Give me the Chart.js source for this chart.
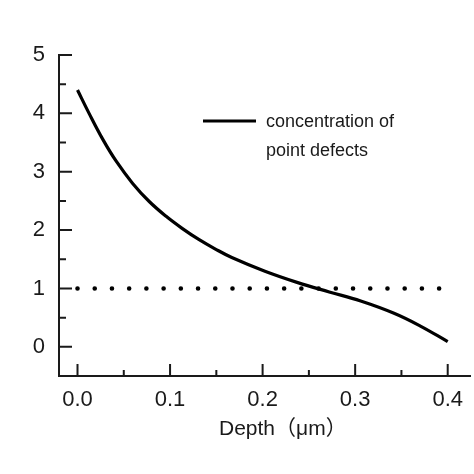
<!DOCTYPE html>
<html>
<head>
<meta charset="utf-8">
<script src="https://cdn.jsdelivr.net/npm/chart.js@4.4.1/dist/chart.umd.min.js"></script>
<style>
  html, body { margin: 0; padding: 0; background: #fff; }
  #wrap { width: 474px; height: 474px; }
</style>
</head>
<body>
<div id="wrap"><canvas id="chartDefects" width="474" height="474"></canvas></div>
<script>
// ===== DADOS =====
const DEPTH = [0, 0.0125, 0.0275, 0.0418, 0.0596, 0.0775, 0.0954, 0.113, 0.131, 0.149,
               0.1667, 0.2025, 0.238, 0.272, 0.306, 0.342, 0.370, 0.4];
const CONC  = [4.40, 4.00, 3.55, 3.18, 2.80, 2.49, 2.24, 2.03, 1.84, 1.675,
               1.53, 1.295, 1.10, 0.94, 0.785, 0.575, 0.36, 0.09];
const REF_X = [0, 0.395];
const REF_Y = [1, 1];
const X_TICKS = [0, 0.1, 0.2, 0.3, 0.4];
const X_MINOR = [0.05, 0.15, 0.25, 0.35];
const Y_TICKS = [0, 1, 2, 3, 4, 5];
const Y_MINOR = [0.5, 1.5, 2.5, 3.5, 4.5];
const LEGEND_LINES = ['concentration of', 'point defects'];
const X_TITLE = 'Depth（μm）';

const FONT = '"Liberation Sans", Arial, "Noto Sans CJK SC", sans-serif';
const INK = '#1a1a1a';

// ===== GRÁFICO =====
function initGrafico() {
  const ctx = document.getElementById('chartDefects');

  new Chart(ctx, {
    type: 'line',
    data: {
      datasets: [{
        label: LEGEND_LINES.join(' '),
        data: DEPTH.map((x, i) => ({ x, y: CONC[i] })),
        borderColor: '#000',
        borderWidth: 3.2,
        pointRadius: 0,
        tension: 0.4
      }, {
        label: 'ref',
        data: REF_X.map((x, i) => ({ x, y: REF_Y[i] })),
        borderColor: '#000',
        borderWidth: 4.6,
        borderDash: [0, 17.22],
        borderCapStyle: 'round',
        pointRadius: 0
      }]
    },
    options: {
      responsive: false,
      animation: false,
      devicePixelRatio: 1,
      layout: { padding: { top: 55, right: 0, bottom: 0, left: 0 } },
      plugins: { legend: { display: false }, tooltip: { enabled: false } },
      scales: {
        x: {
          type: 'linear',
          min: -0.02, max: 0.4246,
          afterBuildTicks: s => { s.ticks = X_TICKS.map(v => ({ value: v })); },
          afterFit: s => { s.height = 98; },
          ticks: {
            padding: 11,
            color: INK,
            font: { family: FONT, size: 22 },
            maxRotation: 0,
            callback: v => v.toFixed(1)
          },
          grid: { display: false, drawTicks: false },
          border: { display: true, width: 2, color: INK }
        },
        y: {
          min: -0.5, max: 5,
          afterBuildTicks: s => { s.ticks = Y_TICKS.map(v => ({ value: v })); },
          afterFit: s => { s.width = 59; },
          ticks: {
            padding: 14,
            color: INK,
            font: { family: FONT, size: 22 },
            callback: v => String(v)
          },
          grid: { display: false, drawTicks: false },
          border: { display: true, width: 2, color: INK }
        }
      }
    },
    plugins: [{
      id: 'inwardTicks',
      afterDraw(chart) {
        const c = chart.ctx;
        const xs = chart.scales.x, ys = chart.scales.y;
        const left = chart.chartArea.left, bottom = chart.chartArea.bottom;
        c.save();
        c.strokeStyle = INK;
        c.lineWidth = 2;
        c.beginPath();
        Y_TICKS.forEach(v => { const y = ys.getPixelForValue(v); c.moveTo(left, y); c.lineTo(left + 13, y); });
        Y_MINOR.forEach(v => { const y = ys.getPixelForValue(v); c.moveTo(left, y); c.lineTo(left + 7, y); });
        X_TICKS.forEach(v => { const x = xs.getPixelForValue(v); c.moveTo(x, bottom); c.lineTo(x, bottom - 12); });
        X_MINOR.forEach(v => { const x = xs.getPixelForValue(v); c.moveTo(x, bottom); c.lineTo(x, bottom - 6); });
        c.stroke();

        // titulo do eixo x
        c.fillStyle = INK;
        c.font = '21px ' + FONT;
        c.textAlign = 'left';
        c.textBaseline = 'middle';
        c.fillText(X_TITLE, 219, 429);

        // legenda
        c.strokeStyle = '#000';
        c.lineWidth = 3.2;
        c.beginPath();
        c.moveTo(203, 121);
        c.lineTo(256, 121);
        c.stroke();
        c.font = '18px ' + FONT;
        c.fillText(LEGEND_LINES[0], 266, 122);
        c.fillText(LEGEND_LINES[1], 266, 151);
        c.restore();
      }
    }]
  });
}

initGrafico();
</script>
</body>
</html>
